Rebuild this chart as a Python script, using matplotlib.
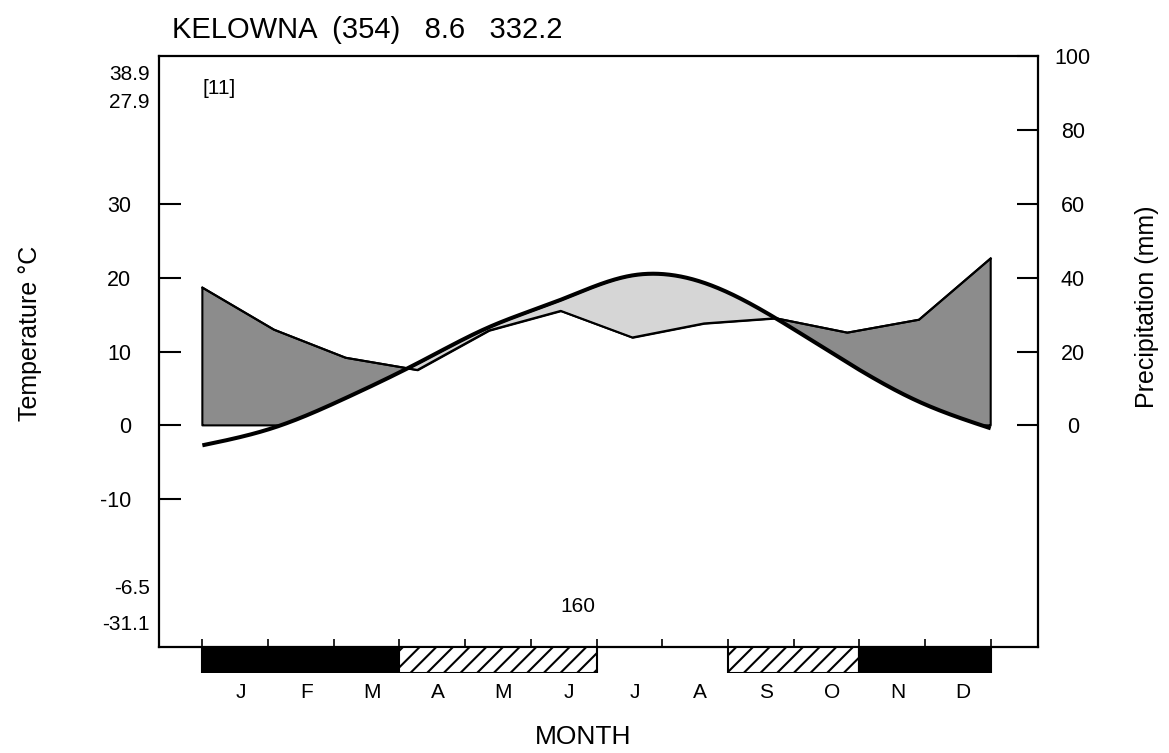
import matplotlib
matplotlib.use('Agg')
import matplotlib.pyplot as plt
import numpy as np

plt.rcParams['font.family'] = ['Liberation Sans', 'DejaVu Sans']
plt.rcParams['hatch.linewidth'] = 1.5
plt.rcParams['axes.unicode_minus'] = False

months = ['J', 'F', 'M', 'A', 'M', 'J', 'J', 'A', 'S', 'O', 'N', 'D']
temp = [-2.7, -0.3, 3.7, 8.4, 13.3, 17.0, 20.3, 19.3, 14.5, 8.5, 3.2, -0.4]
precip = [37.3, 25.9, 18.3, 15.0, 25.7, 31.0, 23.8, 27.6, 29.0, 25.1, 28.6, 45.2]
# 2 = black (frost every month), 1 = hatched (frost possible), 0 = frost free
frost = [2, 2, 2, 1, 1, 1, 0, 0, 1, 1, 2, 2]

station = 'KELOWNA'
elevation = 354
mean_temp = 8.6
annual_precip = 332.2
years = 11
abs_max, warm_max = 38.9, 27.9
cold_min, abs_min = -6.5, -31.1
frost_free = 160

temp_ticks = [-10, 0, 10, 20, 30]
precip_ticks = [0, 20, 40, 60, 80, 100]


# natural cubic spline for the smooth temperature curve
def spline(x, y, xs):
    x = np.asarray(x, float)
    y = np.asarray(y, float)
    n = len(x)
    h = np.diff(x)
    A = np.zeros((n, n))
    b = np.zeros(n)
    A[0, 0] = A[-1, -1] = 1
    for i in range(1, n - 1):
        A[i, i - 1] = h[i - 1]
        A[i, i] = 2 * (h[i - 1] + h[i])
        A[i, i + 1] = h[i]
        b[i] = 3 * ((y[i + 1] - y[i]) / h[i] - (y[i] - y[i - 1]) / h[i - 1])
    c = np.linalg.solve(A, b)
    bb = np.diff(y) / h - h * (2 * c[:-1] + c[1:]) / 3
    d = np.diff(c) / (3 * h)
    idx = np.clip(np.searchsorted(x, xs) - 1, 0, n - 2)
    dx = xs - x[idx]
    return y[idx] + bb[idx] * dx + c[idx] * dx**2 + d[idx] * dx**3


W, H = 1169, 753
fig = plt.figure(figsize=(W / 100, H / 100), dpi=100)

left, right, top, bottom = 159, 1038, 56, 647
ax = fig.add_axes([left / W, 1 - bottom / H, (right - left) / W, (bottom - top) / H])
xlim = (-0.66, 12.72)

# month points spread over the whole month bar
xp = np.arange(12) * 12 / 11
xd = np.linspace(0, 12, 1500)
td = spline(xp, temp, xd)
pd_ = np.interp(xd, xp, np.array(precip) / 2)

ax.fill_between(xd, pd_, np.maximum(td, 0), where=pd_ >= td, interpolate=True,
                facecolor='#8c8c8c', edgecolor='black', lw=1.5)
ax.fill_between(xd, td, pd_, where=td > pd_, interpolate=True,
                facecolor='#d6d6d6', edgecolor='black', lw=1.2)
ax.plot(xp, np.array(precip) / 2, color='black', lw=1.5)
ax.plot(xd, td, color='black', lw=2.9, solid_capstyle='butt')

ax.set_xlim(xlim)
ax.set_ylim(-30, 50)
ax.set_yticks(temp_ticks)
ax.set_xticks(range(13))
ax.tick_params(axis='y', direction='in', length=16, width=1.5, pad=20, labelsize=15.5)
ax.tick_params(axis='x', direction='in', length=6, width=1.2, labelbottom=False)
for s in ax.spines.values():
    s.set_linewidth(1.6)

ax2 = ax.twinx()
ax2.set_ylim(-60, 100)
ax2.set_yticks(precip_ticks)
ax2.tick_params(axis='y', direction='in', length=15, width=1.5, pad=25, labelsize=15.5)
for lab in ax2.get_yticklabels():
    lab.set_horizontalalignment('center')
for s in ax2.spines.values():
    s.set_visible(False)

# frost bar under the axes
bax = fig.add_axes([left / W, 1 - 673 / H, (right - left) / W, 26 / H])
bax.set_xlim(xlim)
bax.set_ylim(0, 1)
bax.axis('off')
start = 0
for i in range(1, 13):
    if i == 12 or frost[i] != frost[start]:
        if frost[start] == 2:
            bax.bar(start, 1, width=i - start, align='edge', color='black',
                    edgecolor='black', lw=1.5)
        elif frost[start] == 1:
            bax.bar(start, 1, width=i - start, align='edge', facecolor='white',
                    edgecolor='black', hatch='//', lw=1.5)
        start = i

for i, m in enumerate(months):
    xpix = left + (i + 0.58 - xlim[0]) / (xlim[1] - xlim[0]) * (right - left)
    fig.text(xpix / W, 1 - 692 / H, m, ha='center', va='center', fontsize=15)

fig.text(172 / W, 1 - 30 / H, f'{station}  ({elevation})   {mean_temp}   {annual_precip}',
         ha='left', va='center', fontsize=21)
fig.text(150 / W, 1 - 75 / H, f'{abs_max}', ha='right', va='center', fontsize=15)
fig.text(150 / W, 1 - 103 / H, f'{warm_max}', ha='right', va='center', fontsize=15)
fig.text(150 / W, 1 - 588 / H, f'{cold_min}', ha='right', va='center', fontsize=15)
fig.text(150 / W, 1 - 624 / H, f'{abs_min}', ha='right', va='center', fontsize=15)
fig.text(203 / W, 1 - 88 / H, f'[{years}]', ha='left', va='center', fontsize=15)
fig.text(578 / W, 1 - 607 / H, f'{frost_free}', ha='center', va='center', fontsize=15)
fig.text(30 / W, 1 - 333 / H, 'Temperature °C', rotation=90, ha='center', va='center', fontsize=18)
fig.text(1147 / W, 1 - 307 / H, 'Precipitation (mm)', rotation=90, ha='center', va='center', fontsize=18)
fig.text(583 / W, 1 - 737 / H, 'MONTH', ha='center', va='center', fontsize=19)

fig.savefig('out.png', dpi=100)
